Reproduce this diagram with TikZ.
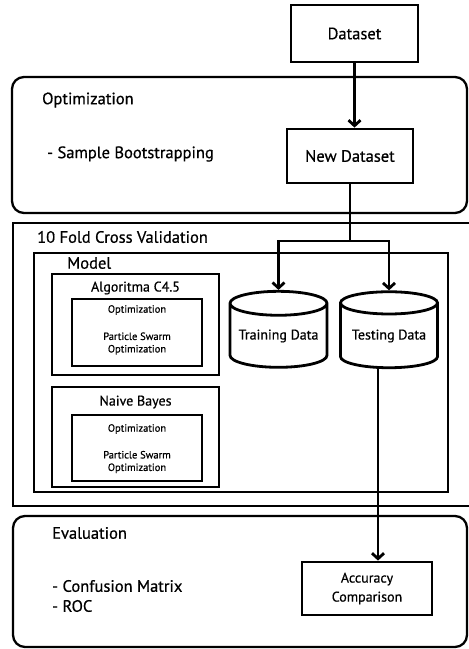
\documentclass[tikz,border=0pt]{standalone}
\usepackage{fontspec}
\setmainfont{PT Sans}[FakeBold=0.6]
\usetikzlibrary{shapes.geometric,arrows.meta}

\begin{document}
\begin{tikzpicture}[x=1pt,y=-1pt,
    box/.style={rectangle, draw, line width=2.8pt, inner sep=0pt},
    stage/.style={draw, line width=2.3pt, rounded corners=12pt},
    label/.style={anchor=west, inner sep=0pt, font=\fontsize{16.5}{20}\selectfont},
    small/.style={font=\fontsize{10.5}{12.5}\selectfont, align=center, inner sep=0pt},
    title/.style={font=\fontsize{14}{16}\selectfont, inner sep=0pt},
    db/.style={cylinder, draw, line width=2.8pt, shape border rotate=90, aspect=0.3,
      minimum width=97pt, minimum height=76pt, inner sep=0pt, font=\fontsize{14}{16}\selectfont},
    flow/.style={line width=2.8pt, -{Straight Barb[length=5.5pt,width=12pt]}}]
            \useasboundingbox (0,0) rectangle (469,649);

            % Stages
            \draw[stage] (12,77) rectangle (467,213);
            \draw[box, line width=2.6pt] (13,223) rectangle (474,506);
            \draw[box, line width=2.6pt] (34,253) rectangle (448,492);
            \draw[stage] (13,516) rectangle (467,647);
            \draw[box] (52,274) rectangle (219,375);
            \draw[box] (72,299) rectangle (202,366);
            \draw[box] (52,387) rectangle (219,487);
            \draw[box] (72,415) rectangle (202,481);

            % Labels
            \node[label] (l1) at (42,100) {Optimization};
            \node[label] (l2) at (47,154) {- Sample Bootstrapping};
            \node[label] (l3) at (37,237) {10 Fold Cross Validation};
            \node[label] (l4) at (67,263) {Model};
            \node[label] (l5) at (52,533) {Evaluation};
            \node[label, align=left] (l6) at (52,596) {- Confusion Matrix\\- ROC};
            \node[title] (a1) at (135.5,288) {Algoritma C4.5};
            \node[small] (a2) at (137,310) {Optimization};
            \node[small] (a3) at (137,343.5) {Particle Swarm\\Optimization};
            \node[title] (b1) at (135.5,402) {Naive Bayes};
            \node[small] (b2) at (137,429) {Optimization};
            \node[small] (b3) at (137,462) {Particle Swarm\\Optimization};

            % Nodes
            \node[box, minimum width=127pt, minimum height=57pt, font=\fontsize{16.5}{18}\selectfont] (ds) at (354.5,33.5) {Dataset};
            \node[box, minimum width=126pt, minimum height=54pt, font=\fontsize{16.5}{18}\selectfont] (nd) at (350,156) {New Dataset};
            \node[db] (tr) at (278.5,336) {Training Data};
            \node[db] (te) at (389,336) {Testing Data};
            \node[box, minimum width=130pt, minimum height=53pt, align=center,
              font=\fontsize{14}{19}\selectfont] (ac) at (367,588.5) {Accuracy\\Comparison};
            \coordinate (sp) at (350,241);

            % Edges
            \draw[flow] (ds.south) -- (ds.south |- nd.north);
            \draw[line width=2.8pt] (nd.south) -- (sp);
            \draw[flow] (sp) -| (tr.north);
            \draw[flow] (sp) -| (te.north);
            \draw[flow] ([xshift=-11pt]te.south) -- ([xshift=-11pt]te.south |- ac.north);
        \end{tikzpicture}
\end{document}
